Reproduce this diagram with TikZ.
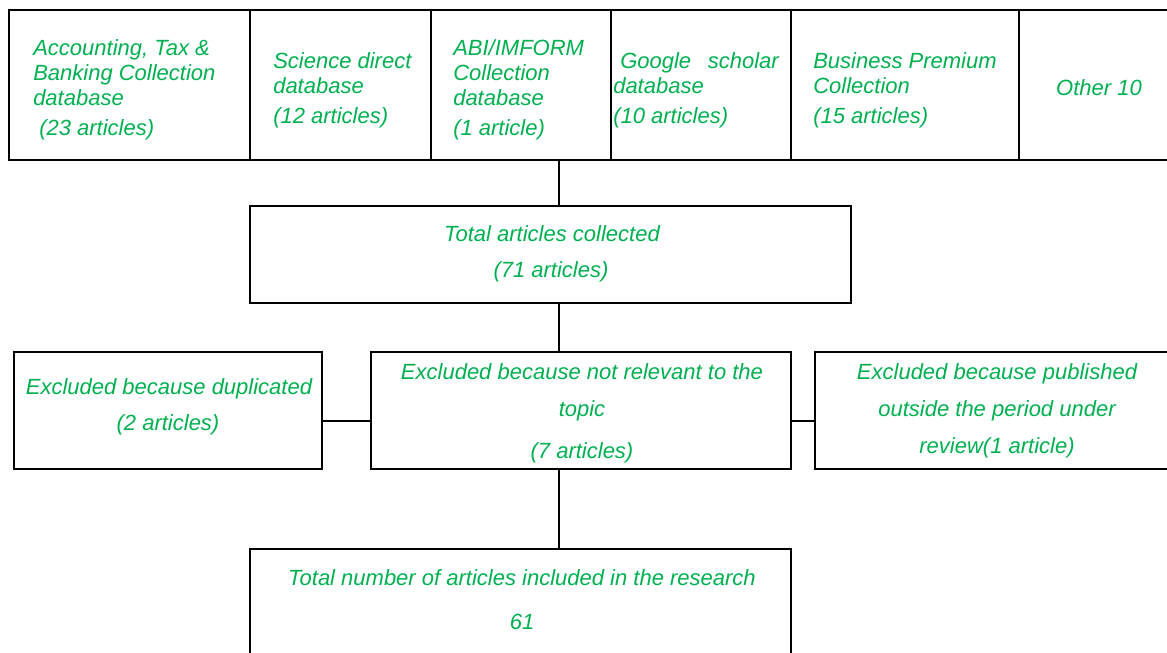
\documentclass[tikz,border=0pt]{standalone}
\usepackage{fontspec}
\setmainfont{Liberation Sans}
\usetikzlibrary{fit}
\definecolor{tg}{RGB}{0,176,80}
\begin{document}
\begin{tikzpicture}[x=0.75pt,y=-0.75pt,
  box/.style={draw=black, line width=1.5pt, inner sep=0pt},
  conn/.style={draw=black, line width=1.3pt},
  txt/.style={text=tg, font=\fontsize{16.5}{18.75}\selectfont\itshape, inner sep=0pt, anchor=base west},
  ctxt/.style={txt, anchor=base}]
\useasboundingbox (0,0) rectangle (1167,653);
% top row
\node[box, fit={(9,10) (250,160)}] (c1) {};
\node[box, fit={(250,10) (431,160)}] (c2) {};
\node[box, fit={(431,10) (611,160)}] (c3) {};
\node[box, fit={(611,10) (791,160)}] (c4) {};
\node[box, fit={(791,10) (1019,160)}] (c5) {};
\node[box, fit={(1019,10) (1172,160)}] (c6) {};
\node[txt] (t1a) at (33,55) {Accounting, Tax \&};
\node[txt] (t1b) at (33,80) {Banking Collection};
\node[txt] (t1c) at (33,105) {database};
\node[txt] (t1d) at (39,135) {(23 articles)};
\node[txt] (t2a) at (273,68) {Science direct};
\node[txt] (t2b) at (273,93) {database};
\node[txt] (t2c) at (273,123) {(12 articles)};
\node[txt] (t3a) at (453,55) {ABI/IMFORM};
\node[txt] (t3b) at (453,80) {Collection};
\node[txt] (t3c) at (453,105) {database};
\node[txt] (t3d) at (453,135) {(1 article)};
\node[txt] (t4a) at (620,68) {Google};
\node[txt, anchor=base east] (t4b) at (779,68) {scholar};
\node[txt] (t4c) at (613,93) {database};
\node[txt] (t4d) at (613,123) {(10 articles)};
\node[txt] (t5a) at (813,68) {Business Premium};
\node[txt] (t5b) at (813,93) {Collection};
\node[txt] (t5c) at (813,123) {(15 articles)};
\node[ctxt] (t6a) at (1099,95) {Other 10};
% total
\node[box, fit={(250,206) (851,303)}] (total) {};
\node[ctxt] (tta) at (552,241) {Total articles collected};
\node[ctxt] (ttb) at (551,277) {(71 articles)};
% middle row
\node[box, fit={(14,352) (322,469)}] (L) {};
\node[ctxt] (tla) at (169,394) {Excluded because duplicated};
\node[ctxt] (tlb) at (168,430) {(2 articles)};
\node[box, fit={(371,352) (791,469)}] (M) {};
\node[ctxt] (tma) at (582,379) {Excluded because not relevant to the};
\node[ctxt] (tmb) at (582,416) {topic};
\node[ctxt] (tmc) at (582,458) {(7 articles)};
\node[box, fit={(815,352) (1172,469)}] (R) {};
\node[ctxt] (tra) at (997,379) {Excluded because published};
\node[ctxt] (trb) at (997,416) {outside the period under};
\node[ctxt] (trc) at (997,453) {review(1 article)};
% bottom
\node[box, fit={(250,549) (791,660)}] (B) {};
\node[ctxt] (tba) at (522,585) {Total number of articles included in the research};
\node[ctxt] (tbb) at (522,629) {61};
% connectors
\coordinate (spine) at (559,0);
\coordinate (hy) at (0,421);
\draw[conn] (c3.south -| spine) -- (total.north -| spine);
\draw[conn] (total.south -| spine) -- (M.north -| spine);
\draw[conn] (M.south -| spine) -- (B.north -| spine);
\draw[conn] (L.east |- hy) -- (M.west |- hy);
\draw[conn] (M.east |- hy) -- (R.west |- hy);
\end{tikzpicture}
\end{document}
